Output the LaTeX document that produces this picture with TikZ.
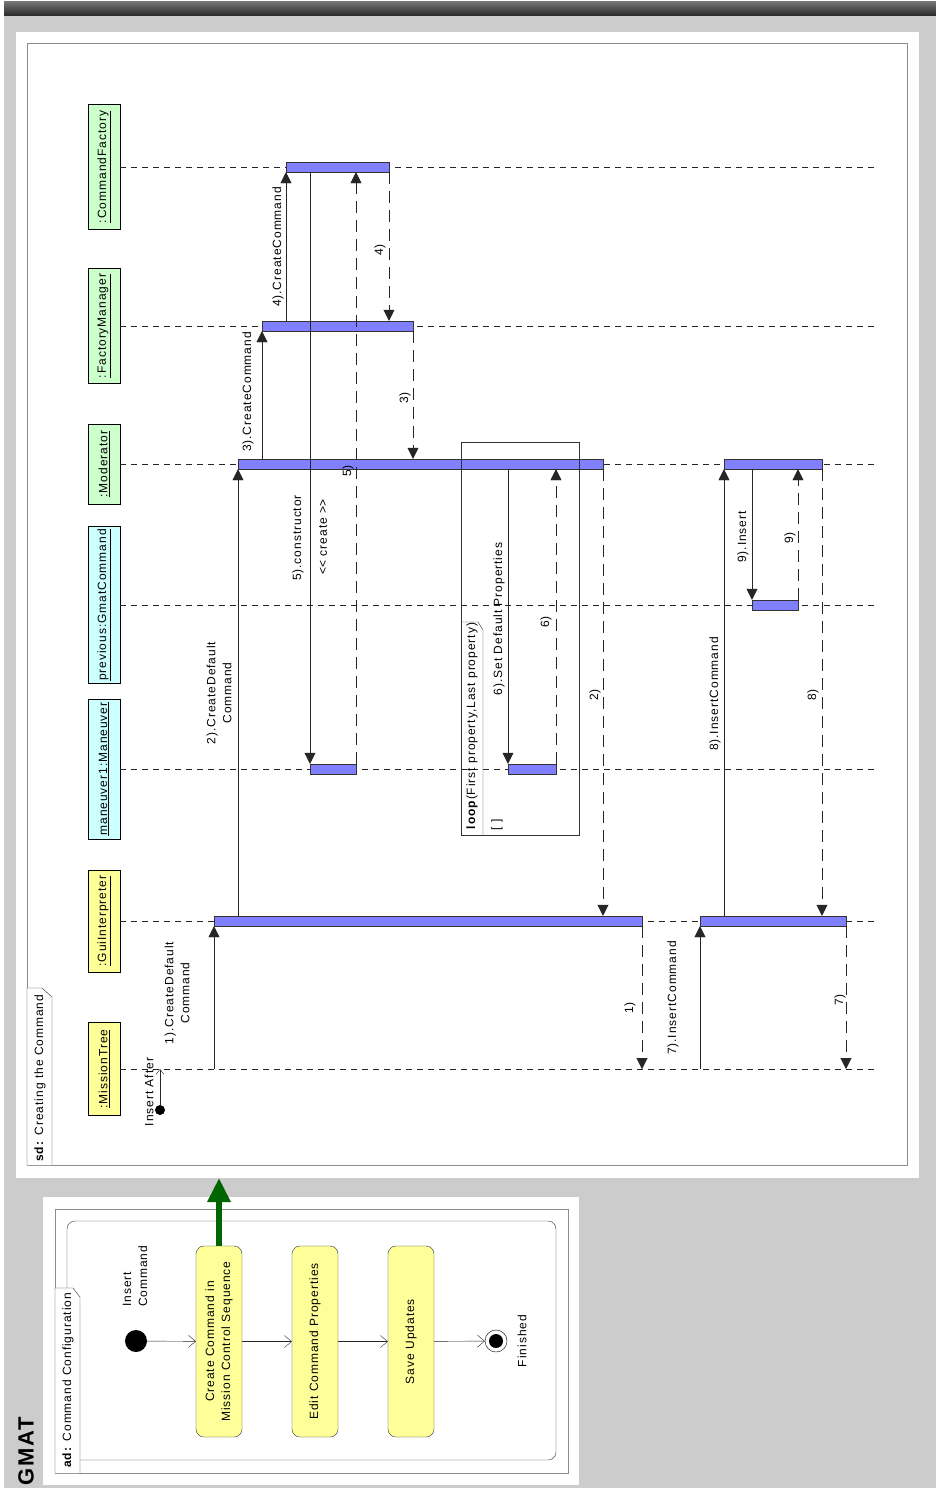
\documentclass[tikz,border=0pt]{standalone}
\usepackage{fontspec}
\setmainfont{Liberation Sans}[LetterSpace=8]
\usepackage{tikz}
\usetikzlibrary{arrows.meta,calc}
\definecolor{SeqBlue}{HTML}{8080FF}
\definecolor{HeadGreen}{HTML}{CCFFCC}
\definecolor{HeadCyan}{HTML}{CCFFFF}
\definecolor{HeadYellow}{HTML}{FFFF99}
\definecolor{PanelGray}{HTML}{CCCCCC}
\definecolor{FrameGray}{HTML}{8C8C8C}
\definecolor{LinkGreen}{HTML}{006400}

\begin{document}
\begin{tikzpicture}[
    x=1pt, y=-1pt,
    font=\fontsize{12}{16}\selectfont,
    head/.style={
      draw=black,
      minimum width=32pt,
      inner sep=0pt
    },
    greenhead/.style={head, fill=HeadGreen},
    cyanhead/.style={head, fill=HeadCyan},
    yellowhead/.style={head, fill=HeadYellow},
    bar/.style={
      draw=black!80,
      fill=SeqBlue,
      minimum height=10pt,
      inner sep=0pt
    },
    lifeline/.style={black!85, dash pattern=on 6pt off 5pt},
    msg/.style={
      black!85,
      -{Triangle[length=11pt,width=11pt]}
    },
    ret/.style={msg, dash pattern=on 12pt off 7pt},
    lbl/.style={rotate=90, inner sep=0pt, align=center},
    actbox/.style={
      draw=black!80,
      fill=HeadYellow,
      rounded corners=8pt,
      minimum width=46pt,
      minimum height=191pt,
      inner sep=0pt
    },
    flow/.style={
      black!85,
      -{Straight Barb[length=7pt,width=12pt]}
    }
  ]
  \useasboundingbox (0,0) rectangle (936,1488);

  % window background
  \fill[white] (0,0) rectangle (936,1488);
  \fill[PanelGray] (4,15) rectangle (936,1488);
  \shade[top color=black!55, bottom color=black!85] (4,2) rectangle (936,16);

  % sequence diagram panel
  \fill[white] (16,32) rectangle (919,1178);
  \draw[FrameGray] (27,43) rectangle (907,1165);
  \draw[black!80, fill=white] (27,1165) -- (27,988) -- (42,988) -- (52,997) -- (52,1165);
  \node[lbl, anchor=west] (sdTitle) at (40,1162) {\textbf{sd:} Creating the Command};

  % lifeline heads
  \node[greenhead, minimum height=125pt] (cf) at (104,167) {\rotatebox{90}{\underline{:CommandFactory}}};
  \node[greenhead, minimum height=115pt] (fm) at (104,326) {\rotatebox{90}{\underline{:FactoryManager}}};
  \node[greenhead, minimum height=80pt] (mod) at (104,464) {\rotatebox{90}{\underline{:Moderator}}};
  \node[cyanhead, minimum height=157pt] (prev) at (104,605) {\rotatebox{90}{\underline{previous:GmatCommand}}};
  \node[cyanhead, minimum height=140pt] (man) at (104,769) {\rotatebox{90}{\underline{maneuver1:Maneuver}}};
  \node[yellowhead, minimum height=102pt] (gui) at (104,921) {\rotatebox{90}{\underline{:GuiInterpreter}}};
  \node[yellowhead, minimum height=93pt] (tree) at (104,1069) {\rotatebox{90}{\underline{:MissionTree}}};

  \coordinate (lifeEnd) at (875,0);
  \foreach \h in {cf,fm,mod,prev,man,gui,tree}
    \draw[lifeline] (\h.east) -- (\h.east -| lifeEnd);

  % activation bars
  \node[bar, minimum width=103pt] (cfBar) at (337.5,167) {};
  \node[bar, minimum width=151pt] (fmBar) at (337.5,326) {};
  \node[bar, minimum width=365pt] (modBarA) at (420.5,464) {};
  \node[bar, minimum width=98pt] (modBarB) at (773,464) {};
  \node[bar, minimum width=46pt] (prevBar) at (775,605) {};
  \node[bar, minimum width=46pt] (manBarA) at (333,769) {};
  \node[bar, minimum width=48pt] (manBarB) at (532,769) {};
  \node[bar, minimum width=428pt] (guiBarA) at (428,921) {};
  \node[bar, minimum width=146pt] (guiBarB) at (773,921) {};

  % message columns
  \foreach \n/\x in {m1/214,m2/238,m3/262,m4/286,m5/310,m6/508,m7/700,m8/724,m9/752,
                     r1/642,r2/603,r3/413,r4/389,r5/356,r6/556,r7/846,r8/822,r9/798}
    \coordinate (\n) at (\x,0);

  % entry
  \node[circle, fill=black, minimum size=10pt, inner sep=0pt] (insDot) at (160,1110) {};
  \draw[black!85, -{Straight Barb[length=5pt,width=8pt]}] (insDot) -- (insDot |- tree.east);
  \node[lbl] at (149,1092) {Insert After};

  % calls
  \draw[msg] (m1 |- tree.east) -- (m1 |- guiBarA.south);
  \draw[msg] (m2 |- guiBarA.north) -- (m2 |- modBarA.south);
  \draw[msg] (m3 |- modBarA.north) -- (m3 |- fmBar.south);
  \draw[msg] (m4 |- fmBar.north) -- (m4 |- cfBar.south);
  \draw[msg] (m5 |- cfBar.south) -- (m5 |- manBarA.north);
  \draw[msg] (m6 |- modBarA.south) -- (m6 |- manBarB.north);
  \draw[msg] (m7 |- tree.east) -- (m7 |- guiBarB.south);
  \draw[msg] (m8 |- guiBarB.north) -- (m8 |- modBarB.south);
  \draw[msg] (m9 |- modBarB.south) -- (m9 |- prevBar.north);

  % returns
  \draw[ret] (r4 |- cfBar.south) -- (r4 |- fmBar.north);
  \draw[ret] (r3 |- fmBar.south) -- (r3 |- modBarA.north);
  \draw[ret] (r5 |- manBarA.north) -- (r5 |- cfBar.south);
  \draw[ret] (r6 |- manBarB.north) -- (r6 |- modBarA.south);
  \draw[ret] (r2 |- modBarA.south) -- (r2 |- guiBarA.north);
  \draw[ret] (r1 |- guiBarA.south) -- (r1 |- tree.east);
  \draw[ret] (r9 |- prevBar.north) -- (r9 |- modBarB.south);
  \draw[ret] (r8 |- modBarB.south) -- (r8 |- guiBarB.north);
  \draw[ret] (r7 |- guiBarB.south) -- (r7 |- tree.east);

  % loop fragment
  \draw[black!80] (461,442) rectangle (579,835);
  \draw[black!80] (461,622) -- (478,622) -- (483,630) -- (483,835);
  \node[lbl] (loopTitle) at (472,726) {\textbf{loop}(First property,Last property)};
  \node[lbl] (loopGuard) at (497,825) {[ ]};

  % message labels
  \node[lbl] at (177,993) {1).CreateDefault\\Command};
  \node[lbl] at (219,693) {2).CreateDefault\\Command};
  \node[lbl] at (248,392) {3).CreateCommand};
  \node[lbl] at (278,247) {4).CreateCommand};
  \node[lbl] at (380,250) {4)};
  \node[lbl] at (405,398) {3)};
  \node[lbl] at (298,538) {5).constructor};
  \node[lbl] at (323,537) {<\kern0pt< create >\kern0pt>};
  \node[lbl] at (348,471) {5)};
  \node[lbl] at (499,619) {6).Set Default Properties};
  \node[lbl] at (546,622) {6)};
  \node[lbl] at (595,695) {2)};
  \node[lbl] at (630,1008) {1)};
  \node[lbl] at (673,998) {7).InsertCommand};
  \node[lbl] at (715,694) {8).InsertCommand};
  \node[lbl] at (743,537) {9).Insert};
  \node[lbl] at (790,538) {9)};
  \node[lbl] at (813,695) {8)};
  \node[lbl] at (840,1000) {7)};

  % activity diagram panel
  \fill[white] (43,1197) rectangle (579,1485);
  \draw[FrameGray] (55,1209) rectangle (568,1473);
  \draw[black!80, rounded corners=8pt] (67,1221) rectangle (556,1460);
  \draw[black!80, fill=white] (55,1473) -- (55,1288) -- (73,1288) -- (80,1297) -- (80,1473);
  \node[lbl, anchor=west] (adTitle) at (68,1468) {\textbf{ad:} Command Configuration};

  \node[circle, fill=black, minimum size=22pt, inner sep=0pt] (init) at (136,1341) {};
  \node[lbl, anchor=west, align=left] at (135,1307) {Insert\\Command};
  \node[actbox] (create) at (219,1341.5) {\rotatebox{90}{\begin{tabular}{@{}c@{}}Create Command in\\Mission Control Sequence\end{tabular}}};
  \node[actbox] (edit) at (315,1341.5) {\rotatebox{90}{Edit Command Properties}};
  \node[actbox] (save) at (411,1341.5) {\rotatebox{90}{Save Updates}};
  \node[circle, draw=black, minimum size=22pt, inner sep=0pt] (final) at (496,1341) {};
  \node[circle, fill=black, minimum size=14pt, inner sep=0pt] at (final) {};
  \node[lbl] at (522,1341) {Finished};

  \draw[flow] (init) -- (create);
  \draw[flow] (create) -- (edit);
  \draw[flow] (edit) -- (save);
  \draw[flow] (save) -- (final);

  % link to the sequence diagram
  \coordinate (seqBottom) at (0,1178);
  \draw[LinkGreen, line width=6pt, -{Triangle[length=24pt,width=22pt]}] (create.north) -- (create.north |- seqBottom);

  \node[rotate=90, font=\fontsize{22}{24}\selectfont\bfseries] (brand) at (26,1451) {GMAT};
\end{tikzpicture}
\end{document}
